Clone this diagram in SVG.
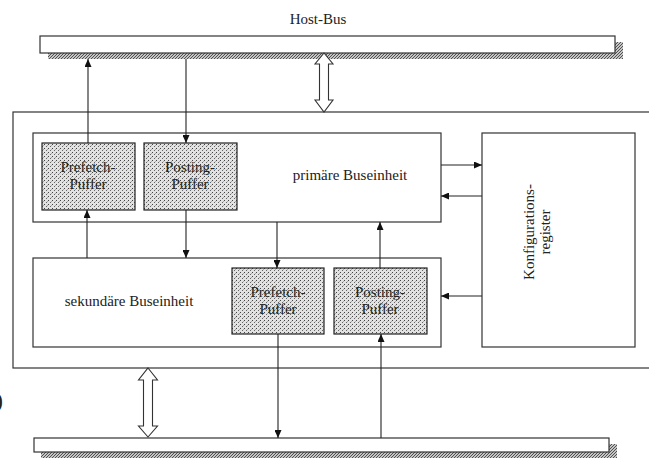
<svg xmlns="http://www.w3.org/2000/svg" width="649" height="458" viewBox="0 0 649 458">
<defs>
<pattern id="dots" width="4" height="4" patternUnits="userSpaceOnUse">
<rect width="4" height="4" fill="#e2e2e2"/>
<rect x="0" y="0" width="1" height="1" fill="#444"/>
<rect x="2" y="2" width="1" height="1" fill="#666"/>
<rect x="3" y="1" width="1" height="1" fill="#aaa"/>
</pattern>
<pattern id="hatch" width="3" height="3" patternUnits="userSpaceOnUse">
<rect width="3" height="3" fill="#c4c4c4"/>
<path d="M0,3 L3,0" stroke="#444" stroke-width="0.9"/>
</pattern>
<marker id="ah" markerWidth="8" markerHeight="7" refX="8" refY="3.5" orient="auto" markerUnits="userSpaceOnUse">
<path d="M0,0 L8,3.5 L0,7 z" fill="#111"/>
</marker>
</defs>
<style>
.box{fill:#fff;stroke:#333;stroke-width:1.2}
.buf{fill:url(#dots);stroke:#222;stroke-width:1.2}
.shadow{fill:url(#hatch);stroke:none}
.t{font-family:"Liberation Serif","Times New Roman",serif;font-size:15px;fill:#222;text-anchor:middle}
.c{stroke:#222;stroke-width:1.1;fill:none;marker-end:url(#ah)}
.dbl{fill:#fff;stroke:#333;stroke-width:1.1}
</style>
<rect width="649" height="458" fill="#fff"/>

<g id="host-bus">
<text class="t" x="318" y="24">Host-Bus</text>
<rect class="shadow" x="48" y="53" width="575" height="6"/>
<rect class="shadow" x="615" y="42" width="8" height="17"/>
<rect class="box" x="40" y="36" width="575" height="17"/>
</g>

<g id="outer">
<rect class="box" x="13" y="112" width="660" height="256"/>
</g>

<g id="primary">
<rect class="box" x="33" y="133" width="408" height="89"/>
<text class="t" x="350" y="180">primäre Buseinheit</text>
</g>

<g id="p-prefetch">
<rect class="buf" x="42" y="143" width="93" height="67"/>
<text class="t" x="88" y="172">Prefetch-</text>
<text class="t" x="88" y="189">Puffer</text>
</g>

<g id="p-posting">
<rect class="buf" x="144" y="143" width="93" height="67"/>
<text class="t" x="190" y="172">Posting-</text>
<text class="t" x="190" y="189">Puffer</text>
</g>

<g id="secondary">
<rect class="box" x="33" y="258" width="408" height="89"/>
<text class="t" x="129" y="306">sekundäre Buseinheit</text>
</g>

<g id="s-prefetch">
<rect class="buf" x="232" y="268" width="92" height="66"/>
<text class="t" x="278" y="297">Prefetch-</text>
<text class="t" x="278" y="314">Puffer</text>
</g>

<g id="s-posting">
<rect class="buf" x="334" y="268" width="93" height="66"/>
<text class="t" x="380" y="297">Posting-</text>
<text class="t" x="380" y="314">Puffer</text>
</g>

<g id="konfig">
<rect class="box" x="482" y="133" width="153" height="214"/>
<text class="t" transform="translate(534,232) rotate(-90)">Konfigurations-</text>
<text class="t" transform="translate(550,232) rotate(-90)">register</text>
</g>

<g id="pci-bus">
<rect class="shadow" x="41" y="452" width="576" height="6"/>
<rect class="shadow" x="609" y="444" width="8" height="14"/>
<rect class="box" x="34" y="438" width="575" height="14"/>
</g>

<text x="-5" y="408" style="font-family:'Liberation Serif',serif;font-size:24px;fill:#222">)</text>

<g id="connectors">
<line class="c" x1="88" y1="143" x2="88" y2="59"/>
<line class="c" x1="186" y1="59" x2="186" y2="143"/>
<line class="c" x1="87" y1="258" x2="87" y2="210"/>
<line class="c" x1="186" y1="210" x2="186" y2="258"/>
<line class="c" x1="277" y1="222" x2="277" y2="268"/>
<line class="c" x1="380" y1="268" x2="380" y2="222"/>
<line class="c" x1="441" y1="165" x2="482" y2="165"/>
<line class="c" x1="482" y1="196" x2="441" y2="196"/>
<line class="c" x1="482" y1="296" x2="441" y2="296"/>
<line class="c" x1="278" y1="334" x2="278" y2="438"/>
<line class="c" x1="381" y1="438" x2="381" y2="334"/>
<polygon class="dbl" points="324,53 333,64 328.5,64 328.5,100 333,100 324,112 315,100 319.5,100 319.5,64 315,64"/>
<polygon class="dbl" points="148,368 157.5,380 152.5,380 152.5,426 157.5,426 148,437 138.5,426 143.5,426 143.5,380 138.5,380"/>
</g>
</svg>
